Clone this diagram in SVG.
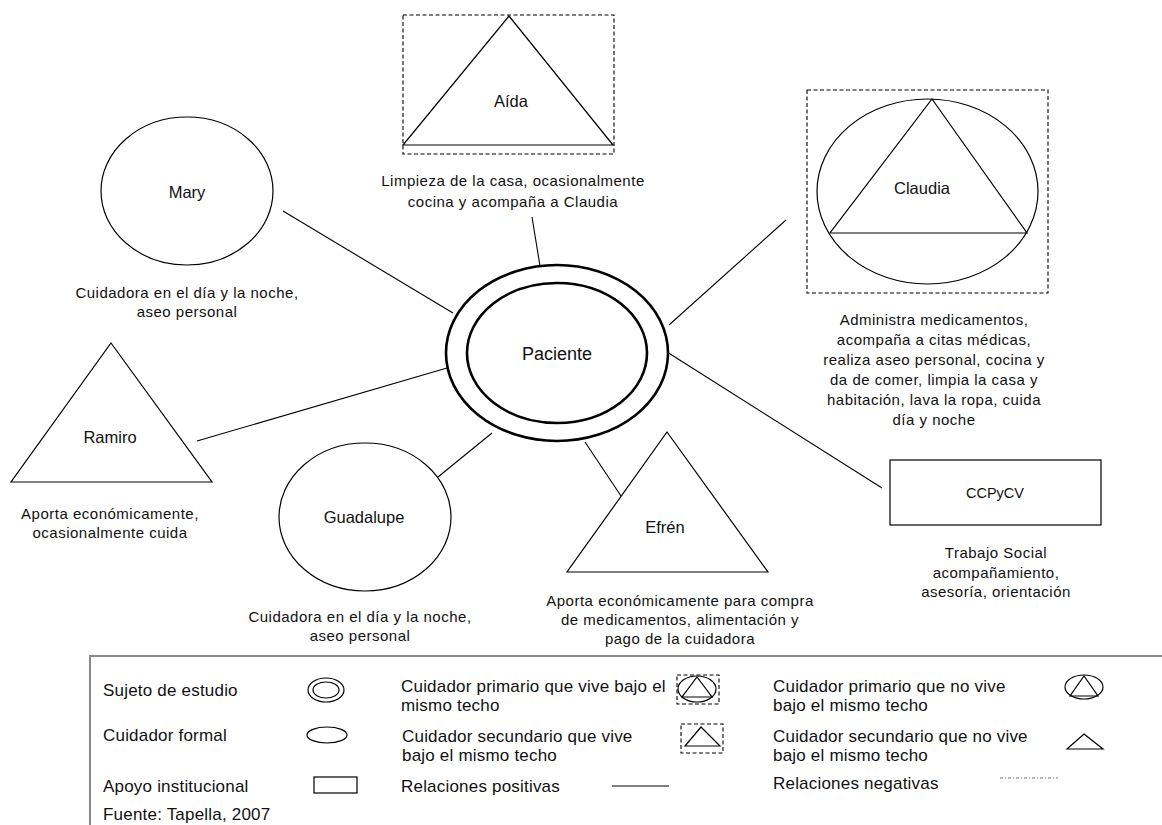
<svg xmlns="http://www.w3.org/2000/svg" width="1162" height="825" viewBox="0 0 1162 825">
  <style>
    .shape { fill: none; stroke: #000; stroke-width: 1.2; }
    .dash { fill: none; stroke: #000; stroke-width: 1.1; stroke-dasharray: 4 2.5; }
    .bold { fill: none; stroke: #000; stroke-width: 2.6; }
    .edge { stroke: #000; stroke-width: 1.1; fill: none; }
    text { font-family: "Liberation Sans", Arial, sans-serif; fill: #111; }
    .lbl { font-size: 16.5px; text-anchor: middle; }
    .desc { font-size: 15px; letter-spacing: 0.5px; text-anchor: middle; }
    .leg { font-size: 17px; letter-spacing: 0.2px; }
  </style>
  <rect width="1162" height="825" fill="#fff"/>

  <!-- connectors from the patient to each actor -->
  <g id="connectors">
    <line class="edge" x1="283" y1="211" x2="453" y2="313"/>
    <line class="edge" x1="532" y1="217" x2="540" y2="266"/>
    <line class="edge" x1="669" y1="325" x2="786" y2="220"/>
    <line class="edge" x1="197" y1="441" x2="447" y2="368"/>
    <line class="edge" x1="438" y1="477" x2="492" y2="433"/>
    <line class="edge" x1="585" y1="442" x2="621" y2="496"/>
    <line class="edge" x1="667" y1="352" x2="882" y2="488"/>
  </g>

  <g id="paciente">
    <ellipse class="bold" cx="557" cy="353" rx="111" ry="88"/>
    <ellipse class="bold" cx="557" cy="353" rx="90" ry="70"/>
    <text x="557" y="360" text-anchor="middle" font-size="18">Paciente</text>
  </g>

  <g id="aida">
    <rect class="dash" x="403" y="15" width="211" height="139"/>
    <polygon class="shape" points="509,16 613,145 403,145"/>
    <text class="lbl" x="511" y="107">Aída</text>
    <text class="desc" x="513" y="186">Limpieza de la casa, ocasionalmente</text>
    <text class="desc" x="513" y="207">cocina y acompaña a Claudia</text>
  </g>

  <g id="mary">
    <ellipse class="shape" cx="187" cy="191" rx="86" ry="74"/>
    <text class="lbl" x="187" y="198">Mary</text>
    <text class="desc" x="187" y="298">Cuidadora en el día y la noche,</text>
    <text class="desc" x="187" y="317">aseo personal</text>
  </g>

  <g id="claudia">
    <rect class="dash" x="807" y="90" width="241" height="203"/>
    <ellipse class="shape" cx="927.5" cy="191.5" rx="110.5" ry="92.5"/>
    <polygon class="shape" points="932,99 1027,233 830,233"/>
    <text class="lbl" x="922" y="194">Claudia</text>
    <text class="desc" x="934" y="325">Administra medicamentos,</text>
    <text class="desc" x="934" y="345">acompaña a citas médicas,</text>
    <text class="desc" x="934" y="365">realiza aseo personal, cocina y</text>
    <text class="desc" x="934" y="385">da de comer, limpia la casa y</text>
    <text class="desc" x="934" y="405">habitación, lava la ropa, cuida</text>
    <text class="desc" x="934" y="425">día y noche</text>
  </g>

  <g id="ramiro">
    <polygon class="shape" points="111,343 212,482 11,482"/>
    <text class="lbl" x="110" y="443">Ramiro</text>
    <text class="desc" x="110" y="519">Aporta económicamente,</text>
    <text class="desc" x="110" y="538">ocasionalmente cuida</text>
  </g>

  <g id="guadalupe">
    <ellipse class="shape" cx="365" cy="517" rx="86" ry="74"/>
    <text class="lbl" x="364" y="523">Guadalupe</text>
    <text class="desc" x="360" y="622">Cuidadora en el día y la noche,</text>
    <text class="desc" x="360" y="641">aseo personal</text>
  </g>

  <g id="efren">
    <polygon class="shape" points="667,432 768,572 567,572"/>
    <text class="lbl" x="665" y="533">Efrén</text>
    <text class="desc" x="680" y="606">Aporta económicamente para compra</text>
    <text class="desc" x="680" y="625">de medicamentos, alimentación y</text>
    <text class="desc" x="680" y="644">pago de la cuidadora</text>
  </g>

  <g id="ccpycv">
    <rect class="shape" x="890" y="460" width="211" height="65"/>
    <text x="995" y="498" text-anchor="middle" font-size="14.5">CCPyCV</text>
    <text class="desc" x="996" y="558">Trabajo Social</text>
    <text class="desc" x="996" y="578">acompañamiento,</text>
    <text class="desc" x="996" y="597">asesoría, orientación</text>
  </g>

  <!-- key -->
  <g id="legend">
    <rect x="90" y="656" width="1090" height="180" fill="none" stroke="#8a8a8a" stroke-width="2"/>
    <text class="leg" x="103" y="696">Sujeto de estudio</text>
    <ellipse class="shape" cx="326" cy="690" rx="18" ry="12"/>
    <ellipse class="shape" cx="326" cy="690" rx="13" ry="8"/>
    <text class="leg" x="103" y="741">Cuidador formal</text>
    <ellipse class="shape" cx="327" cy="735" rx="20" ry="8"/>
    <text class="leg" x="103" y="792">Apoyo institucional</text>
    <rect class="shape" x="314" y="777" width="43" height="16"/>
    <text class="leg" x="103" y="820">Fuente: Tapella, 2007</text>

    <text class="leg" x="401" y="692">Cuidador primario que vive bajo el</text>
    <text class="leg" x="401" y="711">mismo techo</text>
    <rect class="dash" x="677" y="675" width="42" height="29" stroke-width="0.9" stroke-dasharray="2 1.5"/>
    <ellipse class="shape" cx="697" cy="689" rx="19" ry="13"/>
    <polygon class="shape" points="697,677 712,697 682,697"/>
    <text class="leg" x="402" y="742">Cuidador secundario que vive</text>
    <text class="leg" x="402" y="761">bajo el mismo techo</text>
    <rect class="dash" x="681" y="724" width="42" height="29" stroke-width="0.9" stroke-dasharray="2 1.5"/>
    <polygon class="shape" points="701,727 720,746 685,746"/>
    <text class="leg" x="401" y="792">Relaciones positivas</text>
    <line class="edge" x1="612" y1="786" x2="669" y2="786"/>

    <text class="leg" x="773" y="692">Cuidador primario que no vive</text>
    <text class="leg" x="773" y="711">bajo el mismo techo</text>
    <ellipse class="shape" cx="1084" cy="687" rx="19" ry="12"/>
    <polygon class="shape" points="1084,676 1098,696 1070,696"/>
    <text class="leg" x="773" y="742">Cuidador secundario que no vive</text>
    <text class="leg" x="773" y="761">bajo el mismo techo</text>
    <polygon class="shape" points="1084,734 1103,749 1067,749"/>
    <text class="leg" x="773" y="789">Relaciones negativas</text>
    <line x1="1000" y1="778" x2="1058" y2="778" stroke="#777" stroke-width="1" stroke-dasharray="3 2 1 2"/>
  </g>
</svg>
